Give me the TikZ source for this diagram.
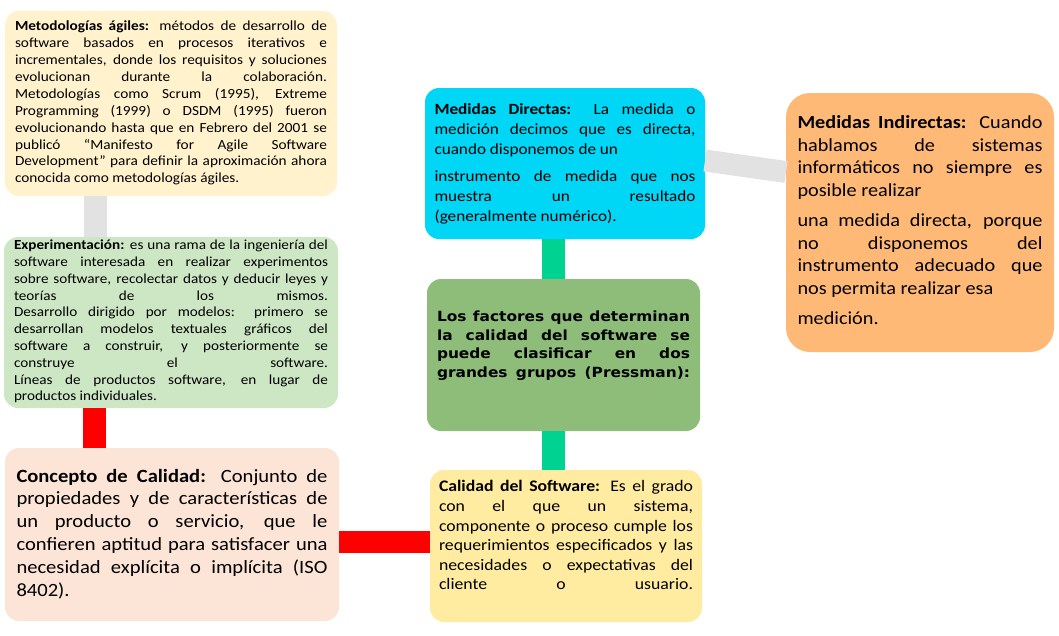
\documentclass[tikz,border=0pt]{standalone}
\usepackage{fontspec}
\setmainfont{Carlito}[FakeStretch=1.1]
\newfontfamily\heavyfont{DejaVu Sans}[FakeStretch=1.1]
\usepackage{tikz}
\usetikzlibrary{calc}

\definecolor{agilfill}{RGB}{255,242,204}
\definecolor{expfill}{RGB}{205,231,196}
\definecolor{cptfill}{RGB}{252,228,214}
\definecolor{calfill}{RGB}{255,236,160}
\definecolor{facfill}{RGB}{141,189,121}
\definecolor{dirfill}{RGB}{0,214,246}
\definecolor{indfill}{RGB}{255,185,119}
\definecolor{linkgray}{RGB}{226,226,226}
\definecolor{linkred}{RGB}{255,0,0}
\definecolor{linkgreen}{RGB}{0,210,145}

\newcommand{\cardtext}[3]{\parbox[c][#2][t]{#1}{\tolerance=9999\hyphenpenalty=10000 #3}}

\begin{document}
\begin{tikzpicture}[x=1pt, y=-1pt,
    card/.style={anchor=north west, outer sep=0pt, rounded corners=14pt},
    link/.style={line width=23pt, line cap=butt}]
    \useasboundingbox (0,0) rectangle (1059,635);

    % Left column
    \node[card, fill=agilfill, inner xsep=10pt, inner ysep=10pt, font=\fontsize{13.9pt}{16.9pt}\selectfont] (agil) at (5,11)
        {\cardtext{312pt}{165pt}{\textbf{Metodologías ágiles:} métodos de desarrollo de\linebreak software basados en procesos iterativos e\linebreak incrementales, donde los requisitos y soluciones\linebreak evolucionan durante la colaboración.\linebreak Metodologías como Scrum (1995), Extreme\linebreak Programming (1999) o DSDM (1995) fueron\linebreak evolucionando hasta que en Febrero del 2001 se\linebreak publicó “Manifesto for Agile Software\linebreak Development” para definir la aproximación ahora\linebreak conocida como metodologías ágiles.}};
    \node[card, fill=expfill, inner xsep=10pt, inner ysep=3pt, font=\fontsize{13.8pt}{16.8pt}\selectfont] (exp) at (4,237)
        {\cardtext{314pt}{165pt}{\textbf{Experimentación:} es una rama de la ingeniería del\linebreak software interesada en realizar experimentos\linebreak sobre software, recolectar datos y deducir leyes y\linebreak teorías de los mismos.\linebreak Desarrollo dirigido por modelos: primero se\linebreak desarrollan modelos textuales gráficos del\linebreak software a construir, y posteriormente se\linebreak construye el software.\linebreak Líneas de productos software, en lugar de\linebreak productos individuales.}};
    \node[card, fill=cptfill, inner xsep=11.5pt, inner ysep=21pt, font=\fontsize{18.7pt}{22.8pt}\selectfont] (cpt) at (5,448)
        {\cardtext{311pt}{131pt}{\textbf{Concepto de Calidad:} Conjunto de\linebreak propiedades y de características de\linebreak un producto o servicio, que le\linebreak confieren aptitud para satisfacer una\linebreak necesidad explícita o implícita (ISO\linebreak 8402).}};

    % Middle column
    \node[card, fill=dirfill, inner xsep=9.5pt, inner ysep=16pt, font=\fontsize{15.6pt}{20pt}\selectfont] (dir) at (425,88)
        {\cardtext{261pt}{119pt}{\textbf{Medidas Directas:} La medida o\linebreak medición decimos que es directa,\linebreak cuando disponemos de un\par\vspace{7pt}instrumento de medida que nos\linebreak muestra un resultado\linebreak (generalmente numérico).}};
    \node[card, fill=facfill, inner xsep=10pt, inner ysep=32pt, font=\heavyfont\bfseries\fontsize{14pt}{18.5pt}\selectfont] (fac) at (427,279)
        {\cardtext{253pt}{88pt}{\parfillskip=0pt Los factores que determinan\linebreak la calidad del software se\linebreak puede clasificar en dos\linebreak grandes grupos (Pressman):}};
    \node[card, fill=calfill, inner xsep=9pt, inner ysep=10.5pt, font=\fontsize{16.1pt}{19.6pt}\selectfont] (cal) at (430,470)
        {\cardtext{254pt}{131pt}{\parfillskip=0pt \textbf{Calidad del Software:} Es el grado\linebreak con el que un sistema,\linebreak componente o proceso cumple los\linebreak requerimientos especificados y las\linebreak necesidades o expectativas del\linebreak cliente o usuario.}};

    % Right column
    \node[card, rounded corners=24pt, fill=indfill, inner xsep=11.5pt, inner ysep=23pt, font=\fontsize{18.4pt}{22.5pt}\selectfont] (ind) at (786,93)
        {\cardtext{245pt}{213pt}{\textbf{Medidas Indirectas:} Cuando\linebreak hablamos de sistemas\linebreak informáticos no siempre es\linebreak posible realizar\par\vspace{8pt}una medida directa, porque\linebreak no disponemos del\linebreak instrumento adecuado que\linebreak nos permita realizar esa\par\vspace{7.5pt}medición.}};

    % Connectors
    \draw[link, draw=linkgray] ([xshift=90.5pt]agil.south west) -- ([xshift=90.5pt]agil.south west |- exp.north);
    \draw[link, draw=linkred] ([xshift=90.5pt]exp.south west) -- ([xshift=90.5pt]exp.south west |- cpt.north);
    \draw[link, line width=22pt, draw=linkred] ([yshift=-7.5pt]cpt.east) -- ([yshift=-7.5pt]cpt.east -| cal.west);
    \draw[link, draw=linkgreen] ([xshift=-11.5pt]dir.south) -- ([xshift=-11.5pt]dir.south |- fac.north);
    \draw[link, draw=linkgreen] ([xshift=-10pt]fac.south) -- ([xshift=-10pt]fac.south |- cal.north);
    \draw[link, line width=22pt, draw=linkgray] ([yshift=3pt]dir.east) -- ([yshift=50.5pt]ind.west);
\end{tikzpicture}
\end{document}
